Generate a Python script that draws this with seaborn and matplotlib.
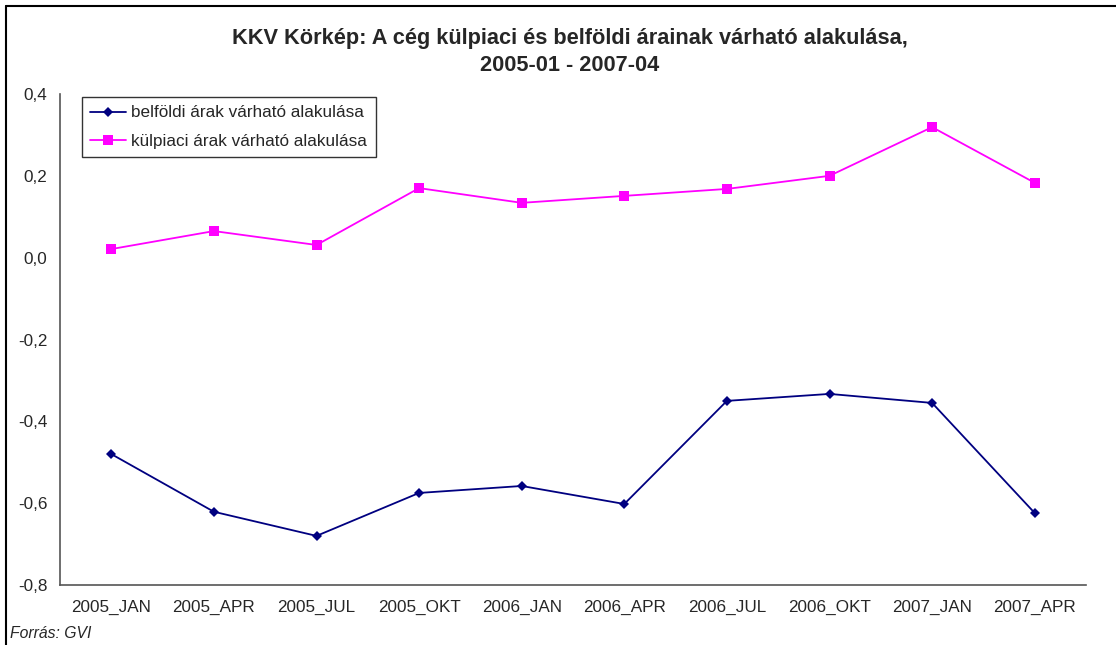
import matplotlib
matplotlib.use("Agg")
import matplotlib.pyplot as plt
import matplotlib.ticker as mticker
from matplotlib.lines import Line2D
import seaborn as sns
import pandas as pd

periods = ["2005_JAN", "2005_APR", "2005_JUL", "2005_OKT", "2006_JAN",
           "2006_APR", "2006_JUL", "2006_OKT", "2007_JAN", "2007_APR"]
belfoldi = [-0.480, -0.621, -0.680, -0.575, -0.558, -0.602, -0.350, -0.333, -0.355, -0.624]
kulpiaci = [0.021, 0.065, 0.031, 0.170, 0.134, 0.151, 0.168, 0.200, 0.319, 0.183]
series_names = ["belföldi árak várható alakulása", "külpiaci árak várható alakulása"]
title = "KKV Körkép: A cég külpiaci és belföldi árainak várható alakulása,\n2005-01 - 2007-04"
source = "Forrás: GVI"

sns.set_style("white")
plt.rcParams["font.family"] = ["Liberation Sans", "DejaVu Sans"]

df = pd.DataFrame({
    "x": list(range(len(periods))) * 2,
    "value": belfoldi + kulpiaci,
    "series": [series_names[0]] * len(periods) + [series_names[1]] * len(periods),
})

fig = plt.figure(figsize=(11.16, 6.45), dpi=100)
ax = fig.add_axes([60 / 1116, 1 - 585 / 645, (1086 - 60) / 1116, (585 - 94) / 645])

palette = {series_names[0]: "#000080", series_names[1]: "#FF00FF"}
markers = {series_names[0]: "D", series_names[1]: "s"}
sizes = {series_names[0]: 5, series_names[1]: 7}
for name in series_names:
    sub = df[df["series"] == name]
    sns.lineplot(data=sub, x="x", y="value", color=palette[name], marker=markers[name],
                 markersize=sizes[name], markeredgewidth=0, linewidth=1.3, ax=ax,
                 legend=False)

ax.set_xlim(-0.5, len(periods) - 0.5)
ax.set_ylim(-0.8, 0.4)
ax.yaxis.set_major_locator(mticker.MultipleLocator(0.2))
ax.yaxis.set_major_formatter(mticker.FuncFormatter(lambda v, p: f"{v:.1f}".replace(".", ",")))
ax.set_xticks([i - 0.5 for i in range(len(periods) + 1)])
ax.set_xticklabels([])
ax.set_xticks(range(len(periods)), minor=True)
ax.set_xticklabels(periods, minor=True)
ax.tick_params(axis="x", which="minor", length=0, pad=11, labelsize=12.3)
ax.tick_params(axis="x", which="major", direction="in", length=5, color="#555555", width=1)
ax.tick_params(axis="y", direction="out", length=5, color="#555555", width=1, labelsize=12.3, pad=4)
ax.set_xlabel("")
ax.set_ylabel("")
for s in ["top", "right"]:
    ax.spines[s].set_visible(False)
for s in ["left", "bottom"]:
    ax.spines[s].set_color("#555555")
    ax.spines[s].set_linewidth(1.2)

handles = [Line2D([], [], color=palette[n], marker=markers[n], markersize=sizes[n],
                  markeredgewidth=0, linewidth=1.3) for n in series_names]
leg = ax.legend(handles, series_names, loc="upper left", bbox_to_anchor=(0.0214, 0.994),
                borderaxespad=0, frameon=True, fancybox=False, edgecolor="black",
                fontsize=12.3, handlelength=2.1, handletextpad=0.3, borderpad=0.5,
                labelspacing=0.78)
leg.get_frame().set_linewidth(1.0)

fig.text(570 / 1116, 1 - 52 / 645, title, ha="center", va="center", fontsize=15.7,
         fontweight="bold", linespacing=1.32)
fig.text(10 / 1116, 1 - 634 / 645, source, ha="left", va="center", fontsize=11.3, style="italic")

# outer chart frame
fig.add_artist(Line2D([6 / 1116, 6 / 1116], [0, 1 - 6 / 645], transform=fig.transFigure,
                      color="black", linewidth=1.5))
fig.add_artist(Line2D([6 / 1116, 1], [1 - 6 / 645, 1 - 6 / 645], transform=fig.transFigure,
                      color="black", linewidth=1.5))

fig.savefig("out.png", dpi=100)
